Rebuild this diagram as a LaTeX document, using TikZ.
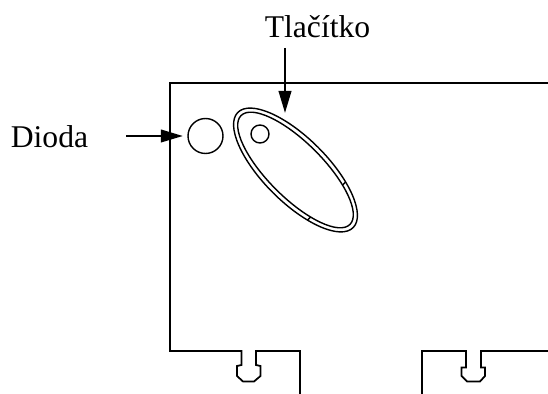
\documentclass[tikz,border=0pt]{standalone}
\usepackage{fontspec}
\setmainfont{Liberation Serif}
\usetikzlibrary{arrows.meta,positioning}

\tikzset{
    board/.style={line width=1pt},
    thinline/.style={line width=0.8pt},
    pointer/.style={line width=1.3pt,-{Triangle[length=4.4mm,width=2.5mm]}},
    caption/.style={inner sep=0pt,font=\fontsize{18}{20}\selectfont}
}

\begin{document}
\begin{tikzpicture}[x=0.02cm,y=-0.02cm]
    \useasboundingbox (0,0) rectangle (548,394);

    \node[caption] (tlacitko) at (317.5,27) {Tlačítko};
    \node[caption] (dioda) at (49.5,136.5) {Dioda};

    \coordinate (tlacitkoStart) at (285,48);
    \coordinate (tlacitkoEnd) at (285,113);
    \coordinate (diodaStart) at (126,136);

    % board outline
    \draw[board] (548,83) -- (170,83) -- (170,351) -- (241.5,351) -- (241.5,365)
        -- (237,366) -- (237,376) -- (243,381.5) -- (254,381.5) -- (260.5,376) -- (260.5,366)
        -- (256,365) -- (256,351) -- (300,351) -- (300,394);
    \draw[board] (422,394) -- (422,351) -- (466,351) -- (466,367.5) -- (461.5,367.5)
        -- (461.5,376) -- (467,381.5) -- (480,381.5) -- (485,376) -- (485,367.5)
        -- (481,367.5) -- (481,351) -- (548,351);

    % button
    \begin{scope}[shift={(295.5,170)},rotate=-45]
        \draw[thinline] (0,0) ellipse (81.5 and 32);
        \draw[thinline] (0,0) ellipse (77 and 27.5);
        \coordinate (tick1a) at (44,-22.5);
        \coordinate (tick1b) at (44,-27);
        \coordinate (tick2a) at (44,22.5);
        \coordinate (tick2b) at (44,27);
    \end{scope}
    \draw[thinline] (tick1a) -- (tick1b);
    \draw[thinline] (tick2a) -- (tick2b);

    \node[circle,draw,thinline,inner sep=0pt,minimum size=0.7cm] (diode) at (205.5,136) {};
    \node[circle,draw,thinline,inner sep=0pt,minimum size=0.36cm] (hole) at (260,134) {};

    \draw[pointer] (tlacitkoStart) -- (tlacitkoEnd);
    \draw[pointer,shorten >=2.5pt] (diodaStart) -- (diode);
\end{tikzpicture}
\end{document}
